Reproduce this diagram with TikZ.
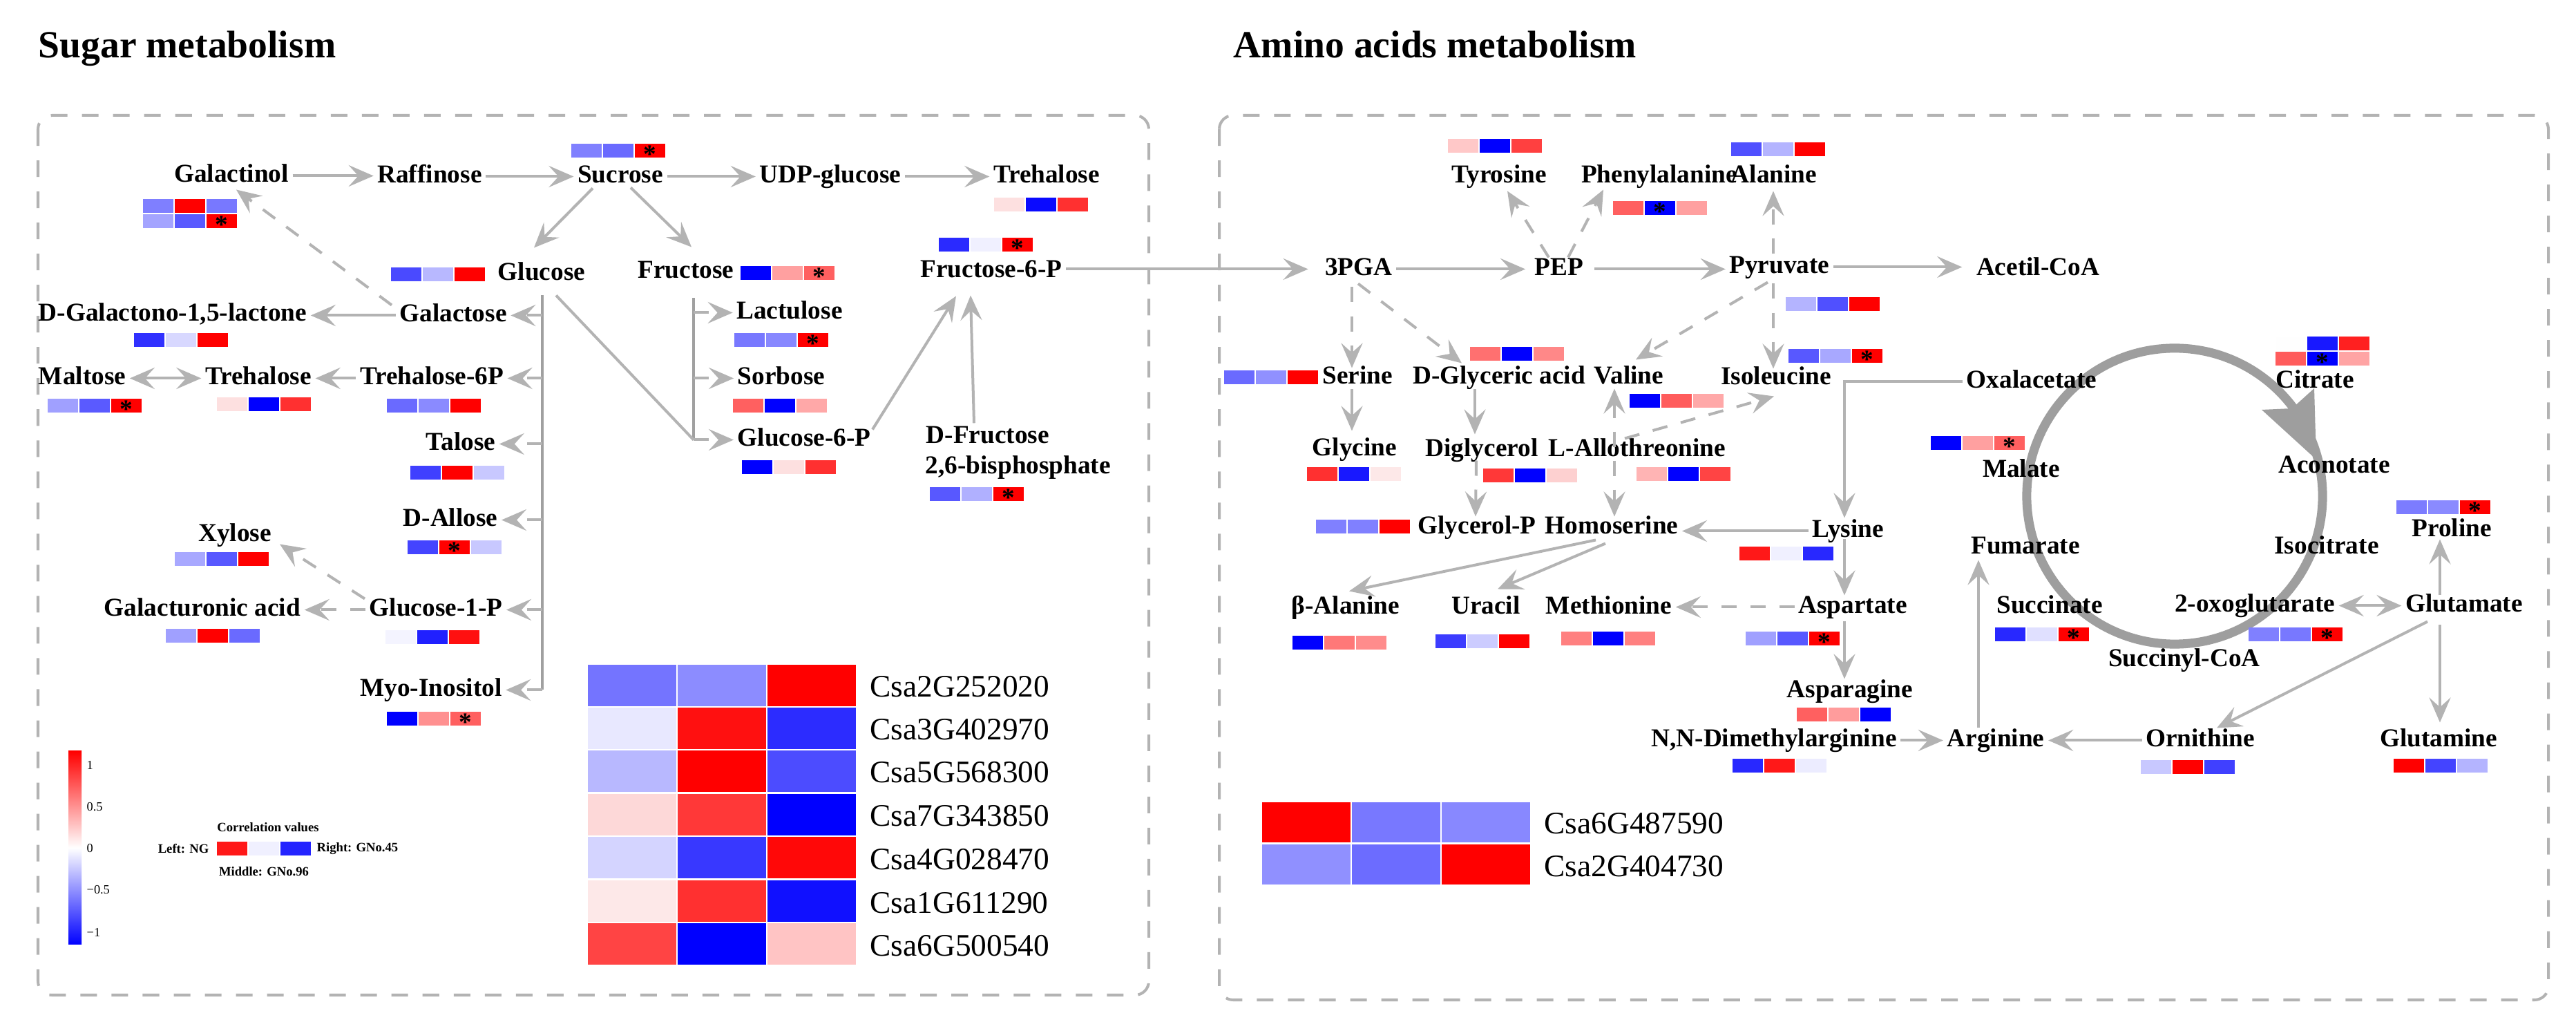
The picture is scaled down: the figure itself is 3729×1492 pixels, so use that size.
\documentclass[tikz,border=0pt]{standalone}
\usepackage{fontspec}
\setmainfont{Liberation Serif}
\usetikzlibrary{arrows.meta,calc}
\definecolor{arr}{HTML}{B3B3B3}
\definecolor{bbc}{HTML}{A0A0A0}
\definecolor{tcac}{HTML}{9E9E9E}
\newcommand{\labfont}{\fontsize{10.6}{12}\selectfont\bfseries}
\newcommand{\hm}[5]{%
  \definecolor{hmA}{HTML}{#3}\definecolor{hmB}{HTML}{#4}\definecolor{hmC}{HTML}{#5}%
  \fill[hmA] (#1,#2) rectangle ++(44,20);
  \fill[hmB] ({#1+46},#2) rectangle ++(44,20);
  \fill[hmC] ({#1+92},#2) rectangle ++(44,20);}
\newcommand{\hs}[4]{\node[st] (#1) at ({#2+22+46*(#4-1)},{#3+10}) {\raisebox{-0.48em}[0.2em][0.2em]{*}};}
\newcommand{\bigrow}[6]{%
  \definecolor{hmA}{HTML}{#4}\definecolor{hmB}{HTML}{#5}\definecolor{hmC}{HTML}{#6}%
  \fill[hmA] (#1,#2) rectangle ++(128,#3);
  \fill[hmB] ({#1+130},#2) rectangle ++(128,#3);
  \fill[hmC] ({#1+260},#2) rectangle ++(128,#3);}
\begin{document}
\begin{tikzpicture}[x=0.01cm,y=-0.01cm,
  lab/.style={font=\labfont, inner xsep=0.05cm, inner ysep=0.02cm, text height=0.27cm, text depth=0.08cm, anchor=base},
  st/.style={font=\labfont, inner sep=0pt, anchor=center},
  tip/.style={-{Stealth[length=0.36cm,width=0.31cm,inset=0.14cm]}},
  tips/.style={{Stealth[length=0.36cm,width=0.31cm,inset=0.14cm]}-{Stealth[length=0.36cm,width=0.31cm,inset=0.14cm]}},
  conn/.style={draw=arr, line width=0.04cm, tip},
  conn2/.style={draw=arr, line width=0.04cm, tips},
  dconn/.style={conn, dash pattern=on 0.22cm off 0.2cm},
  dconn2/.style={conn2, dash pattern=on 0.22cm off 0.2cm},
  plain/.style={draw=arr, line width=0.04cm},
  bbline/.style={draw=bbc, line width=0.04cm},
  boxline/.style={draw=arr, line width=0.04cm, dash pattern=on 0.24cm off 0.21cm, rounded corners=0.2cm},
  title/.style={font=\fontsize{15.8}{18}\selectfont\bfseries, inner sep=0pt, anchor=base west},
  gene/.style={font=\fontsize{12.9}{14}\selectfont, inner sep=0pt, anchor=base west},
  tick/.style={font=\fontsize{5.2}{6}\selectfont, inner sep=0pt, anchor=west},
  leg/.style={font=\fontsize{5.3}{6}\selectfont\bfseries, inner sep=0pt}]
\useasboundingbox (0,0) rectangle (3729,1492);
\fill[white] (0,0) rectangle (3729,1492);

% titles and panels
\node[title] (t1) at (55,84) {Sugar metabolism};
\node[title] (t2) at (1785,84) {Amino acids metabolism};
\draw[boxline] (55,167) rectangle (1663,1440);
\draw[boxline] (1765,167) rectangle (3689,1447);

% TCA cycle
\draw[tcac, line width=0.13cm] (3148,718) circle[radius=2.14cm];
\fill[tcac] (3353,665) -- (3274,593) -- (3318,591) -- (3350,562) -- cycle;

% ---------- sugar labels ----------
\node[lab] (galactinol) at (335,264) {Galactinol};
\node[lab] (raffinose) at (622,265) {Raffinose};
\node[lab] (sucrose) at (898,265) {Sucrose};
\node[lab] (udp) at (1202,265) {UDP-glucose};
\node[lab] (trehA) at (1515,265) {Trehalose};
\node[lab] (glucose) at (784,406) {Glucose};
\node[lab] (fructose) at (993,403) {Fructose};
\node[lab] (f6p) at (1435,402) {Fructose-6-P};
\node[lab] (galactose) at (656,466) {Galactose};
\node[lab] (dgal) at (250,465) {D-Galactono-1,5-lactone};
\node[lab] (lactulose) at (1143,462) {Lactulose};
\node[lab] (maltose) at (119,557) {Maltose};
\node[lab] (trehB) at (374,557) {Trehalose};
\node[lab] (t6p) at (625,557) {Trehalose-6P};
\node[lab] (sorbose) at (1131,557) {Sorbose};
\node[lab] (talose) at (667,652) {Talose};
\node[lab] (g6p) at (1164,646) {Glucose-6-P};
\node[lab, anchor=base west] (dfru) at (1335,642) {D-Fructose};
\node[lab, anchor=base west] (dfrub) at (1334,686) {2,6-bisphosphate};
\node[lab] (dallose) at (652,762) {D-Allose};
\node[lab] (xylose) at (340,784) {Xylose};
\node[lab] (galur) at (293,892) {Galacturonic acid};
\node[lab] (g1p) at (631,892) {Glucose-1-P};
\node[lab] (myo) at (624,1008) {Myo-Inositol};

% ---------- amino labels ----------
\node[lab] (tyr) at (2170,265) {Tyrosine};
\node[lab] (phe) at (2402,265) {Phenylalanine};
\node[lab] (ala) at (2568,265) {Alanine};
\node[lab] (pga) at (1967,399) {3PGA};
\node[lab] (pep) at (2257,399) {PEP};
\node[lab] (pyr) at (2576,396) {Pyruvate};
\node[lab] (acetil) at (2950,399) {Acetil-CoA};
\node[lab] (ser) at (1965,556) {Serine};
\node[lab] (dgly) at (2170,556) {D-Glyceric acid};
\node[lab] (val) at (2358,556) {Valine};
\node[lab] (ile) at (2571,557) {Isoleucine};
\node[lab] (oxa) at (2941,562) {Oxalacetate};
\node[lab] (cit) at (3351,562) {Citrate};
\node[lab] (gly) at (1961,660) {Glycine};
\node[lab] (digly) at (2145,661) {Diglycerol};
\node[lab] (lallo) at (2370,661) {L-Allothreonine};
\node[lab] (mal) at (2926,691) {Malate};
\node[lab] (acon) at (3379,685) {Aconotate};
\node[lab] (glyp) at (2138,773) {Glycerol-P};
\node[lab] (hom) at (2333,773) {Homoserine};
\node[lab] (lys) at (2675,778) {Lysine};
\node[lab] (pro) at (3549,777) {Proline};
\node[lab] (fum) at (2932,802) {Fumarate};
\node[lab] (isocit) at (3368,802) {Isocitrate};
\node[lab] (bala) at (1948,889) {β-Alanine};
\node[lab] (ura) at (2151,889) {Uracil};
\node[lab] (met) at (2329,889) {Methionine};
\node[lab] (asp) at (2682,888) {Aspartate};
\node[lab] (succ) at (2967,888) {Succinate};
\node[lab] (oxo) at (3264,886) {2-oxoglutarate};
\node[lab] (glu) at (3567,886) {Glutamate};
\node[lab] (succoa) at (3162,965) {Succinyl-CoA};
\node[lab] (asn) at (2678,1010) {Asparagine};
\node[lab] (nnd) at (2568,1081) {N,N-Dimethylarginine};
\node[lab] (arg) at (2889,1081) {Arginine};
\node[lab] (orn) at (3185,1081) {Ornithine};
\node[lab] (gln) at (3530,1081) {Glutamine};

% ---------- sugar connectors ----------
\draw[conn] (galactinol.east) -- (galactinol.east -| raffinose.west);
\draw[conn] (raffinose.east) -- (raffinose.east -| sucrose.west);
\draw[conn] (sucrose.east) -- (sucrose.east -| udp.west);
\draw[conn] (udp.east) -- (udp.east -| trehA.west);
\draw[conn] ($(sucrose.center)+(-40,17)$) -- ($(glucose.center)+(-11,-38)$);
\draw[conn] ($(sucrose.center)+(15,16)$) -- ($(fructose.center)+(8,-36)$);
\draw[conn] (galactose.west) -- (galactose.west -| dgal.east);
\draw[dconn] ($(galactose.center)+(-89,-15)$) -- ($(galactinol.center)+(7,20)$);
\draw[conn2] (maltose.east) -- (maltose.east -| trehB.west);
\draw[conn] (t6p.west) -- (t6p.west -| trehB.east);
\coordinate (gb) at ($(glucose.center)+(1,31)$);
\draw[bbline] (gb) -- (gb |- myo.center);
\foreach \t in {galactose,t6p,talose,dallose,g1p,myo}
  \draw[dconn] (gb |- \t.center) -- (\t.east);
\coordinate (fb) at ($(fructose.center)+(11,38)$);
\draw[bbline] (fb) -- (fb |- g6p.center);
\foreach \t in {lactulose,sorbose,g6p}
  \draw[dconn] (fb |- \t.center) -- (\t.west);
\draw[plain] ($(glucose.center)+(21,31)$) -- (fb |- g6p.center);
\draw[conn] ($(g6p.center)+(99,-15)$) -- ($(f6p.center)+(-51,36)$);
\draw[conn] ($(dfru.north west)+(75,0)$) -- ($(f6p.center)+(-30,35)$);
\draw[dconn] ($(g1p.center)+(-103,-16)$) -- ($(xylose.center)+(65,13)$);
\draw[dconn] (g1p.west) -- (g1p.west -| galur.east);
\draw[conn, shorten >=0.19cm] (pga.west -| f6p.east) -- (pga.west);

% ---------- amino connectors ----------
\draw[conn, shorten >=0.08cm] (pga.east) -- (pga.east -| pep.west);
\draw[conn, shorten <=0.1cm] (pep.east) -- (pep.east -| pyr.west);
\draw[conn, shorten >=0.15cm] (pyr.east) -- (pyr.east -| acetil.west);
\draw[dconn] ($(pep.center)+(-15,-17)$) -- ($(tyr.center)+(12,21)$);
\draw[dconn] ($(pep.center)+(13,-17)$) -- ($(phe.center)+(-81,19)$);
\draw[dconn] ($(pyr.center)+(-9,-19)$) -- ($(ala.center)+(-1,21)$);
\draw[dconn] ($(pyr.center)+(-9,24)$) -- ($(ile.center)+(-4,-14)$);
\draw[dconn] ($(pyr.center)+(-17,22)$) -- ($(val.center)+(10,-26)$);
\draw[dconn] ($(pga.center)+(-10,26)$) -- ($(ser.center)+(-8,-14)$);
\draw[dconn] ($(pga.center)+(-1,21)$) -- ($(dgly.center)+(-54,-21)$);
\draw[conn] ($(ser.center)+(-8,17)$) -- ($(gly.center)+(-4,-27)$);
\draw[conn] ($(dgly.center)+(-35,17)$) -- ($(digly.center)+(-10,-23)$);
\draw[dconn2] ($(val.center)+(-21,16)$) -- ($(hom.center)+(4,-16)$);
\draw[dconn] ($(lallo.center)+(-18,-17)$) -- ($(ile.center)+(-3,26)$);
\draw[dconn] ($(digly.center)+(-8,15)$) -- ($(glyp.center)+(-2,-16)$);
\draw[conn] (oxa.west) -| ($(lys.center)+(-5,-19)$);
\draw[conn] (lys.west) -- (lys.west -| hom.east);
\draw[conn] ($(lys.center)+(-5,12)$) -- ($(asp.center)+(-12,-17)$);
\draw[conn] ($(hom.center)+(-23,18)$) -- ($(bala.center)+(5,-24)$);
\draw[conn] ($(hom.center)+(-9,23)$) -- ($(ura.center)+(17,-27)$);
\draw[dconn] (asp.west) -- (asp.west -| met.east);
\draw[conn] ($(asp.center)+(-12,21)$) -- ($(asn.center)+(-8,-18)$);
\draw[conn] (nnd.east) -- (nnd.east -| arg.west);
\draw[conn] (orn.west) -- (orn.west -| arg.east);
\draw[conn] ($(arg.center)+(-25,-18)$) -- ($(fum.center)+(-68,18)$);
\draw[conn] ($(glu.center)+(-53,23)$) -- ($(orn.center)+(24,-18)$);
\draw[conn] ($(glu.center)+(-35,28)$) -- ($(gln.center)+(2,-26)$);
\draw[conn] ($(glu.center)+(-35,-15)$) -- ($(pro.center)+(-17,13)$);
\draw[conn2] (oxo.east) -- (oxo.east -| glu.west);

% ---------- small heatmaps (sugar) ----------
\hm{207}{288}{7F7FFF}{FF0000}{7878FF}
\hm{207}{310}{A4A4FF}{5A5AFF}{FF0000}
\hm{827}{208}{8080FF}{6A6AFF}{FF0000}
\hm{566}{387}{4A4AFF}{B8B8FF}{FF0000}
\hm{194}{482}{3030FF}{D8D8FF}{FF0000}
\hm{69}{577}{A0A0FF}{5A5AFF}{FF0000}
\hm{314}{575}{FDE0E0}{0000FF}{FF3030}
\hm{560}{577}{6A6AFF}{8A8AFF}{FF0000}
\hm{594}{674}{4040FF}{FF0000}{C8C8FF}
\hm{590}{782}{4444FF}{FF0000}{C8C8FF}
\hm{253}{799}{A8A8FF}{5858FF}{FF0000}
\hm{240}{910}{A0A0FF}{FF0000}{6A6AFF}
\hm{558}{912}{F4F4FF}{2020FF}{FF1010}
\hm{560}{1030}{0000FF}{FF9090}{FF6060}
\hm{1439}{286}{FDE0E0}{0A0AFF}{FF3030}
\hm{1072}{385}{0000FF}{FFA0A0}{FF6060}
\hm{1063}{482}{7878FF}{8888FF}{FF0000}
\hm{1061}{577}{FF6060}{0000FF}{FFA8A8}
\hm{1074}{666}{0000FF}{FDE0E0}{FF3030}
\hm{1359}{344}{2A2AFF}{F0F0FF}{FF0000}
\hm{1346}{705}{5858FF}{B0B0FF}{FF0000}
% ---------- small heatmaps (amino) ----------
\hm{2096}{201}{FFC8C8}{0000FF}{FF4040}
\hm{2335}{291}{FF6060}{0000FF}{FFA0A0}
\hm{2506}{206}{5050FF}{B4B4FF}{FF0000}
\hm{2585}{430}{B4B4FF}{5050FF}{FF0000}
\hm{2589}{505}{5858FF}{A8A8FF}{FF0000}
\hm{1772}{536}{6A6AFF}{9090FF}{FF0000}
\hm{2128}{502}{FF7070}{0000FF}{FF8888}
\hm{2359}{570}{0000FF}{FF5C5C}{FFA8A8}
\hm{1892}{676}{FF3030}{1818FF}{FDE8E8}
\hm{2147}{678}{FF3838}{0000FF}{FDD0D0}
\hm{2369}{676}{FFB4B4}{0000FF}{FF4444}
\hm{1905}{752}{8080FF}{8080FF}{FF0000}
\hm{2518}{791}{FF1818}{F0F0FF}{2828FF}
\hm{1871}{920}{0000FF}{FF7878}{FF8C8C}
\hm{2078}{918}{3C3CFF}{CCCCFF}{FF0000}
\hm{2260}{914}{FF8080}{0000FF}{FF8080}
\hm{2527}{914}{A0A0FF}{5858FF}{FF0000}
\hm{2601}{1024}{FF6060}{FF9C9C}{0000FF}
\hm{2508}{1098}{2828FF}{FF1818}{ECECFF}
\hm{3294}{487}{FEFEFE}{1818FF}{FF2020}
\hm{3294}{509}{FF5C5C}{0000FF}{FFA4A4}
\hm{2795}{631}{0000FF}{FFA0A0}{FF6060}
\hm{3469}{724}{7C7CFF}{8A8AFF}{FF0000}
\hm{2888}{908}{2828FF}{E0E0FF}{FF0000}
\hm{3255}{908}{8080FF}{7878FF}{FF0000}
\hm{3099}{1100}{C8C8FF}{FF0000}{4040FF}
\hm{3465}{1098}{FF0000}{4444FF}{B4B4FF}

% stars
\hs{s1}{207}{310}{3}
\hs{s2}{827}{208}{3}
\hs{s3}{69}{577}{3}
\hs{s4}{590}{782}{2}
\hs{s5}{560}{1030}{3}
\hs{s6}{1072}{385}{3}
\hs{s7}{1063}{482}{3}
\hs{s8}{1359}{344}{3}
\hs{s9}{1346}{705}{3}
\hs{s10}{2335}{291}{2}
\hs{s11}{2589}{505}{3}
\hs{s12}{2527}{914}{3}
\hs{s13}{3294}{509}{2}
\hs{s14}{2795}{631}{3}
\hs{s15}{3469}{724}{3}
\hs{s16}{2888}{908}{3}
\hs{s17}{3255}{908}{3}

% ---------- gene heatmap (sugar) ----------
\bigrow{851}{962}{60}{7474FF}{8C8CFF}{FF0000}
\bigrow{851}{1024}{60}{E8E8FF}{FF1010}{2C2CFF}
\bigrow{851}{1086}{60}{B8B8FF}{FF0000}{4C4CFF}
\bigrow{851}{1149}{60}{FDD8D8}{FF3838}{0000FF}
\bigrow{851}{1211}{60}{D4D4FF}{3838FF}{FF0808}
\bigrow{851}{1274}{60}{FDE8E8}{FF3030}{1010FF}
\bigrow{851}{1336}{60}{FF4444}{0000FF}{FFC4C4}
\node[gene] (g1) at (1259,1009) {Csa2G252020};
\node[gene] (g2) at (1259,1071) {Csa3G402970};
\node[gene] (g3) at (1259,1133) {Csa5G568300};
\node[gene] (g4) at (1259,1196) {Csa7G343850};
\node[gene] (g5) at (1259,1258) {Csa4G028470};
\node[gene] (g6) at (1259,1321) {Csa1G611290};
\node[gene] (g7) at (1259,1383) {Csa6G500540};

% ---------- gene heatmap (amino) ----------
\bigrow{1827}{1161}{58}{FF0000}{7878FF}{8888FF}
\bigrow{1827}{1222}{58}{9090FF}{6C6CFF}{FF0000}
\node[gene] (g8) at (2235,1207) {Csa6G487590};
\node[gene] (g9) at (2235,1268) {Csa2G404730};

% ---------- colour bar and legend ----------
\shade[top color=red, bottom color=blue, middle color=white] (99,1087) rectangle (118,1367);
\node[tick] (k1) at (125,1107) {1};
\node[tick] (k2) at (125,1168) {0.5};
\node[tick] (k3) at (125,1228) {0};
\node[tick] (k4) at (125,1288) {−0.5};
\node[tick] (k5) at (125,1349) {−1};
\node[leg] (lg1) at (388,1197) {Correlation values};
\node[leg, anchor=east] (lg2) at (303,1228) {Left: NG};
\hm{314}{1218}{FF1818}{F0F0FF}{2424FF}
\node[leg, anchor=west] (lg3) at (458,1228) {Right: GNo.45};
\node[leg] (lg4) at (382,1261) {Middle: GNo.96};
\end{tikzpicture}
\end{document}
